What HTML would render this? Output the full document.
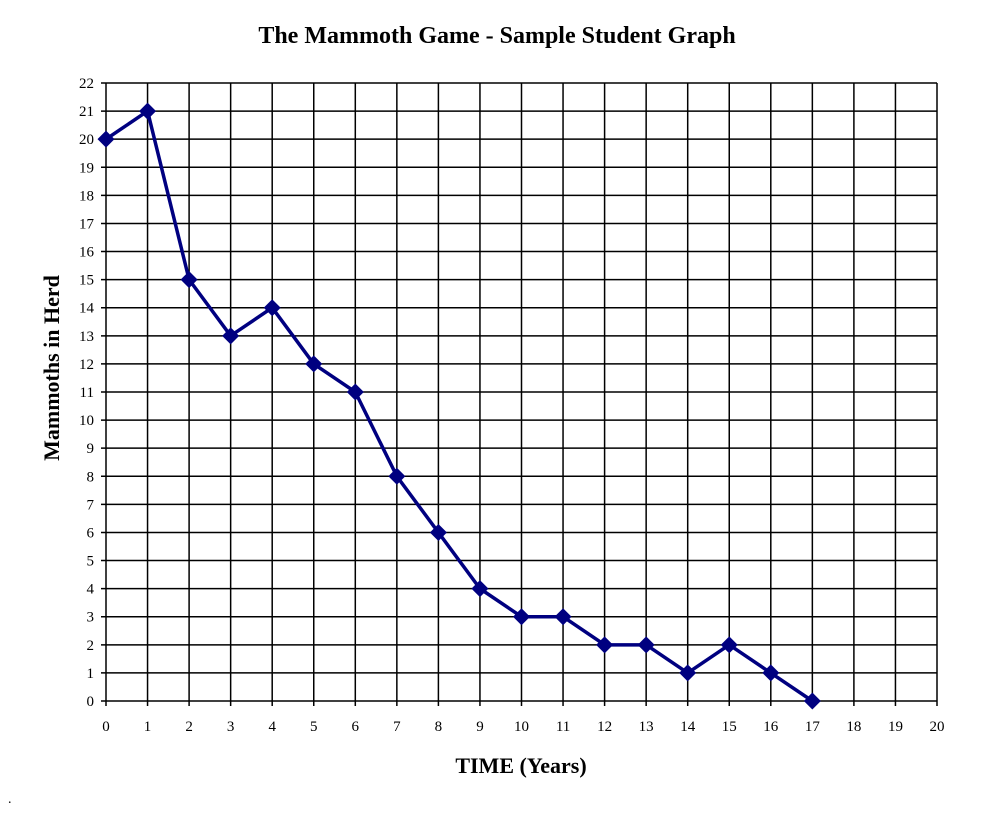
<!DOCTYPE html>
<html><head><style>body{margin:0;background:#fff}</style></head><body>
<svg width="1007" height="810" xmlns="http://www.w3.org/2000/svg" font-family="Liberation Serif, serif">
<rect width="1007" height="810" fill="#fff"/>
<text x="497" y="43" text-anchor="middle" font-size="24" font-weight="bold">The Mammoth Game - Sample Student Graph</text>
<g id="grid" stroke="#000" stroke-width="1.5" fill="none"></g>
<g id="lbl" font-size="15"></g>
<text x="521" y="773" text-anchor="middle" font-size="22" font-weight="bold">TIME (Years)</text>
<text transform="translate(59,368) rotate(-90)" text-anchor="middle" font-size="22" font-weight="bold">Mammoths in Herd</text>
<g id="data"></g>
<text x="8" y="803" font-size="14">.</text>
<script>
var ns="http://www.w3.org/2000/svg",X0=106,X1=937,Y0=701,Y1=83,xs=(X1-X0)/20,ys=(Y0-Y1)/22;
function el(t,a,p){var e=document.createElementNS(ns,t);for(var k in a)e.setAttribute(k,a[k]);p.appendChild(e);return e;}
var g=document.getElementById('grid'),l=document.getElementById('lbl'),d=document.getElementById('data');
for(var i=0;i<=20;i++){var x=X0+i*xs;el('line',{x1:x,y1:Y1,x2:x,y2:Y0+5},g);var t=el('text',{x:x,y:Y0+30,'text-anchor':'middle'},l);t.textContent=i;}
for(var j=0;j<=22;j++){var y=Y0-j*ys;el('line',{x1:X0-5,y1:y,x2:X1,y2:y},g);var t=el('text',{x:X0-12,y:y+5,'text-anchor':'end'},l);t.textContent=j;}
var v=[20,21,15,13,14,12,11,8,6,4,3,3,2,2,1,2,1,0],pts=v.map(function(a,i){return (X0+i*xs)+','+(Y0-a*ys)}).join(' ');
el('polyline',{points:pts,fill:'none',stroke:'#000080','stroke-width':3.5,'stroke-linejoin':'round'},d);
v.forEach(function(a,i){var x=X0+i*xs,y=Y0-a*ys;el('polygon',{points:(x)+','+(y-8.5)+' '+(x+8.5)+','+y+' '+x+','+(y+8.5)+' '+(x-8.5)+','+y,fill:'#000080'},d);});
</script>
</svg>
</body></html>
